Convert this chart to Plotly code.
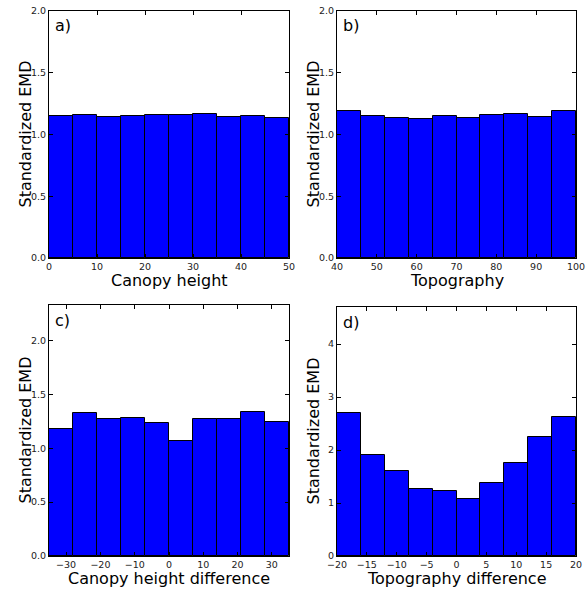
import plotly.graph_objects as go

# Data (bin left edges, bin widths, bar heights)
a_edges = [0, 5, 10, 15, 20, 25, 30, 35, 40, 45]
a_width = 5
a_vals = [1.148, 1.154, 1.140, 1.148, 1.154, 1.156, 1.162, 1.140, 1.146, 1.137]

b_edges = [40, 46, 52, 58, 64, 70, 76, 82, 88, 94]
b_width = 6
b_vals = [1.194, 1.148, 1.135, 1.124, 1.148, 1.135, 1.156, 1.162, 1.140, 1.194]

c_edges = [-35, -28, -21, -14, -7, 0, 7, 14, 21, 28]
c_width = 7
c_vals = [1.175, 1.327, 1.271, 1.278, 1.234, 1.064, 1.271, 1.274, 1.333, 1.247]

d_edges = [-20, -16, -12, -8, -4, 0, 4, 8, 12, 16]
d_width = 4
d_vals = [2.707, 1.912, 1.596, 1.268, 1.218, 1.085, 1.375, 1.760, 2.252, 2.631]

x_titles = ["Canopy height", "Topography", "Canopy height difference", "Topography difference"]
y_title = "Standardized EMD"
panel_labels = ["a)", "b)", "c)", "d)"]

panels = [
    dict(edges=a_edges, w=a_width, vals=a_vals,
         xr=[0, 50], yr=[0, 2.0], xtick=[0, 10, 20, 30, 40, 50], ytick=[0, 0.5, 1.0, 1.5, 2.0], yfmt=".1f"),
    dict(edges=b_edges, w=b_width, vals=b_vals,
         xr=[40, 100], yr=[0, 2.0], xtick=[40, 50, 60, 70, 80, 90, 100], ytick=[0, 0.5, 1.0, 1.5, 2.0], yfmt=".1f"),
    dict(edges=c_edges, w=c_width, vals=c_vals,
         xr=[-35, 35], yr=[0, 2.33], xtick=[-30, -20, -10, 0, 10, 20, 30], ytick=[0, 0.5, 1.0, 1.5, 2.0], yfmt=".1f"),
    dict(edges=d_edges, w=d_width, vals=d_vals,
         xr=[-20, 20], yr=[0, 4.7], xtick=[-20, -15, -10, -5, 0, 5, 10, 15, 20], ytick=[0, 1, 2, 3, 4], yfmt="d"),
]

W, H = 586, 589
boxes = [  # left, right, top, bottom in window px
    (49, 289, 11, 258),
    (337, 576, 11, 258),
    (49, 289, 305, 556),
    (337, 576, 307, 556),
]


def px(x):
    return x / W


def py(y):
    return 1 - y / H


fig = go.Figure()
font = "DejaVu Sans"
layout = dict(
    width=W, height=H, margin=dict(l=0, r=0, t=0, b=0, pad=0, autoexpand=False),
    paper_bgcolor="white", plot_bgcolor="white", showlegend=False,
    font=dict(family=font, color="black"),
    bargap=0,
)
annotations = []
for i, (p, bx) in enumerate(zip(panels, boxes), start=1):
    xa = "x" if i == 1 else f"x{i}"
    ya = "y" if i == 1 else f"y{i}"
    centers = [e + p["w"] / 2 for e in p["edges"]]
    fig.add_trace(go.Bar(
        x=centers, y=p["vals"], width=[p["w"]] * len(centers),
        marker=dict(color="#0000ff", line=dict(color="black", width=1)),
        xaxis=xa, yaxis=ya, hoverinfo="x+y",
    ))
    l, r, t, b = bx
    common = dict(showline=True, linecolor="black", linewidth=1, mirror="ticks",
                  ticks="inside", ticklen=4, tickcolor="black", showgrid=False,
                  zeroline=False, automargin=False,
                  tickfont=dict(size=9.5, family=font, color="#222"))
    layout["xaxis" if i == 1 else f"xaxis{i}"] = dict(
        domain=[px(l), px(r)], anchor=ya, range=p["xr"], tickvals=p["xtick"], **common)
    layout["yaxis" if i == 1 else f"yaxis{i}"] = dict(
        domain=[py(b), py(t)], anchor=xa, range=p["yr"], tickvals=p["ytick"],
        tickformat=p["yfmt"], **common)
    annotations.append(dict(
        text=x_titles[i - 1], xref="paper", yref="paper",
        x=px((l + r) / 2), y=py(b + 22), xanchor="center", yanchor="middle",
        showarrow=False, font=dict(size=16, family=font, color="black")))
    annotations.append(dict(
        text=y_title, xref="paper", yref="paper", textangle=-90,
        x=px(l - 24), y=py((t + b) / 2), xanchor="center", yanchor="middle",
        showarrow=False, font=dict(size=16, family=font, color="black")))
    annotations.append(dict(
        text=panel_labels[i - 1], xref="paper", yref="paper",
        x=px(l + 4), y=py(t + 15), xanchor="left", yanchor="middle",
        showarrow=False, font=dict(size=16, family=font, color="black")))
layout["annotations"] = annotations
fig.update_layout(**layout)
fig.write_html(
    "out.html",
    config={"displayModeBar": False},
    post_script="document.body.style.margin='0px';document.body.style.overflow='hidden';",
)
